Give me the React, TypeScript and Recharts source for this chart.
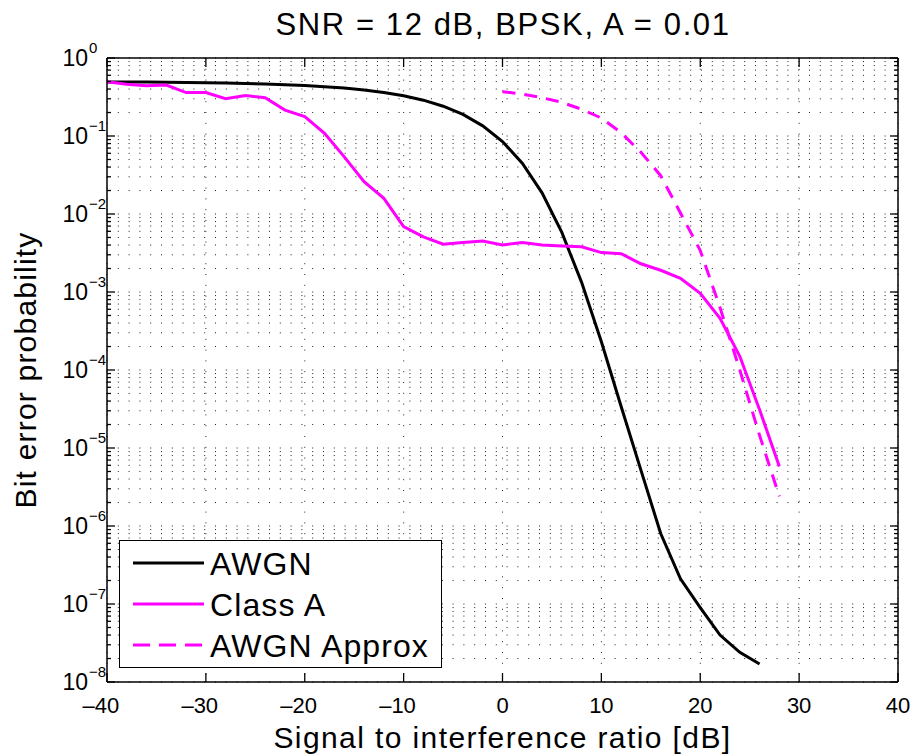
import { LineChart, Line, XAxis, YAxis, CartesianGrid, ReferenceLine, Legend } from 'recharts'

// values (SIR in dB, bit error probability)
const sirAwgn = [-40, -38, -36, -34, -32, -30, -28, -26, -24, -22, -20, -18, -16, -14, -12, -10, -8, -6, -4, -2, 0, 2, 4, 6, 8, 10, 12, 14, 16, 18, 20, 22, 24, 26]
const berAwgn = [0.494, 0.493, 0.491, 0.489, 0.486, 0.482, 0.478, 0.472, 0.465, 0.455, 0.444, 0.429, 0.411, 0.389, 0.362, 0.328, 0.288, 0.241, 0.189, 0.135, 0.085, 0.0448, 0.0187, 0.0058, 0.00133, 2.3e-4, 3.4e-5, 5.2e-6, 8e-7, 2.1e-7, 9e-8, 4.0e-8, 2.4e-8, 1.7e-8]

const sirClassA = [-40, -38, -36, -34, -32, -30, -28, -26, -24, -22, -20, -18, -16, -14, -12, -10, -8, -6, -4, -2, 0, 2, 4, 6, 8, 10, 12, 14, 16, 18, 20, 22, 24, 26, 28]
const berClassA = [0.497, 0.46, 0.44, 0.45, 0.36, 0.36, 0.3, 0.33, 0.31, 0.215, 0.177, 0.108, 0.054, 0.026, 0.0159, 0.0069, 0.0051, 0.0041, 0.0043, 0.0045, 0.004, 0.0043, 0.004, 0.0039, 0.0038, 0.0032, 0.0031, 0.0023, 0.0019, 0.0015, 0.00096, 0.00046, 0.00015, 3.1e-5, 5.8e-6]

const sirApprox = [0, 2, 4, 6, 8, 10, 12, 14, 16, 18, 20, 22, 24, 26, 28]
const berApprox = [0.37, 0.345, 0.31, 0.27, 0.22, 0.17, 0.11, 0.062, 0.031, 0.0103, 0.0034, 6.3e-4, 1.0e-4, 1.45e-5, 2.4e-6]

const xTicks = [-40, -30, -20, -10, 0, 10, 20, 30, 40]
const xTickLabels = ['40', '30', '20', '10', '0', '10', '20', '30', '40']
const yExponents = ['0', '\u22121', '\u22122', '\u22123', '\u22124', '\u22125', '\u22126', '\u22127', '\u22128']

// all log ticks: 1..9 x 10^k, k = -8..-1, plus 10^0
const yTicks: number[] = []
for (let k = -8; k < 0; k++) {
  for (let m = 1; m < 10; m++) yTicks.push(Number((m * Math.pow(10, k)).toPrecision(3)))
}
yTicks.push(1)

const FONT = '"Liberation Sans", Arial, sans-serif'
const MAGENTA = '#FF00FF'
const PLOT_LEFT = 107
const PLOT_RIGHT = 898
const PLOT_TOP = 58
const PLOT_BOTTOM = 682

const data = sirClassA.map((x) => {
  const a = sirAwgn.indexOf(x)
  const p = sirApprox.indexOf(x)
  return {
    x,
    classA: berClassA[sirClassA.indexOf(x)],
    awgn: a >= 0 ? berAwgn[a] : undefined,
    approx: p >= 0 ? berApprox[p] : undefined,
  }
})

function XTick(props: any) {
  const { x, payload } = props
  const v = payload.value as number
  const label = xTickLabels[xTicks.indexOf(v)]
  const half = label.length * 0.556 * 22 * 0.5
  return (
    <g>
      <line x1={x} x2={x} y1={PLOT_BOTTOM} y2={PLOT_BOTTOM - 9} stroke="#000" strokeWidth={1.3} />
      <line x1={x} x2={x} y1={PLOT_TOP} y2={PLOT_TOP + 9} stroke="#000" strokeWidth={1.3} />
      <text x={x} y={713} textAnchor="middle" fontSize={22} fontFamily={FONT} fill="#000">
        {label}
      </text>
      {v < 0 && (
        <text x={x - half} y={713} textAnchor="end" fontSize={22} fontFamily={FONT} fill="#000">
          {'\u2013'}
        </text>
      )}
    </g>
  )
}

function YTick(props: any) {
  const { y, payload } = props
  const v = payload.value as number
  const k = Math.round(-Math.log10(v))
  const major = Math.abs(v - Math.pow(10, -k)) / v < 1e-6
  const len = major ? 8 : 4
  return (
    <g>
      <line x1={PLOT_LEFT} x2={PLOT_LEFT + len} y1={y} y2={y} stroke="#000" strokeWidth={1.3} />
      <line x1={PLOT_RIGHT} x2={PLOT_RIGHT - len} y1={y} y2={y} stroke="#000" strokeWidth={1.3} />
      {major && (
        <text fontFamily={FONT} fill="#000">
          <tspan x={88} y={y + 8} fontSize={23} textAnchor="end">10</tspan>
          <tspan x={89} y={y - 5} fontSize={15} textAnchor="start">{yExponents[k]}</tspan>
        </text>
      )}
    </g>
  )
}

function XLabel() {
  return (
    <text x={(PLOT_LEFT + PLOT_RIGHT) / 2} y={748} textAnchor="middle" fontSize={30} fontFamily={FONT} fill="#000" letterSpacing={1.4}>
      Signal to interference ratio [dB]
    </text>
  )
}

function YLabel() {
  const cy = (PLOT_TOP + PLOT_BOTTOM) / 2
  return (
    <text x={36} y={cy} transform={`rotate(-90 36 ${cy})`} textAnchor="middle" fontSize={30} fontFamily={FONT} fill="#000" letterSpacing={1.2}>
      Bit error probability
    </text>
  )
}

const legendItems = [
  { name: 'AWGN', color: '#000', dashed: false },
  { name: 'Class A', color: MAGENTA, dashed: false },
  { name: 'AWGN Approx', color: MAGENTA, dashed: true },
]

function LegendBox() {
  return (
    <div
      style={{
        width: 323,
        height: 128,
        boxSizing: 'border-box',
        border: '1.5px solid #000',
        background: '#fff',
        fontFamily: FONT,
      }}
    >
      <svg width={320} height={125}>
        {legendItems.map((it, i) => (
          <g key={it.name}>
            <line
              x1={13}
              x2={84}
              y1={22 + i * 41}
              y2={22 + i * 41}
              stroke={it.color}
              strokeWidth={3}
              strokeDasharray={it.dashed ? '17 9' : undefined}
            />
            <text x={90} y={34 + i * 41} fontSize={32} fill="#000" letterSpacing={1.1}>
              {it.name}
            </text>
          </g>
        ))}
      </svg>
    </div>
  )
}

export default function App() {
  return (
    <div style={{ position: 'absolute', left: 0, top: 0, width: 913, height: 756, background: '#fff' }}>
      <div
        style={{
          position: 'absolute',
          left: 0,
          top: 8,
          width: 1006,
          textAlign: 'center',
          fontFamily: FONT,
          fontSize: 31,
          letterSpacing: 1.6,
          lineHeight: '34px',
        }}
      >
        SNR = 12 dB, BPSK, A = 0.01
      </div>
      <LineChart width={913} height={756} data={data} margin={{ top: PLOT_TOP, right: 913 - PLOT_RIGHT, bottom: 0, left: 0 }}>
        <CartesianGrid stroke="#222" strokeDasharray="1 9.8" strokeWidth={1} />
        <XAxis
          dataKey="x"
          type="number"
          domain={[-40, 40]}
          ticks={xTicks}
          interval={0}
          height={756 - PLOT_BOTTOM}
          tickSize={0}
          tick={<XTick />}
          axisLine={{ stroke: '#000', strokeWidth: 1.5 }}
          label={<XLabel />}
        />
        <YAxis
          type="number"
          scale="log"
          domain={[1e-8, 1]}
          allowDataOverflow
          ticks={yTicks}
          interval={0}
          width={PLOT_LEFT}
          tickSize={0}
          tick={<YTick />}
          axisLine={{ stroke: '#000', strokeWidth: 1.5 }}
          label={<YLabel />}
        />
        <ReferenceLine y={1} stroke="#000" strokeWidth={1.5} />
        <ReferenceLine x={40} stroke="#000" strokeWidth={1.5} />
        <Line dataKey="awgn" stroke="#000" strokeWidth={3} dot={false} isAnimationActive={false} />
        <Line dataKey="classA" stroke={MAGENTA} strokeWidth={3} dot={false} isAnimationActive={false} />
        <Line dataKey="approx" stroke={MAGENTA} strokeWidth={3} strokeDasharray="13 9" dot={false} isAnimationActive={false} />
        <Legend
          layout="vertical"
          align="center"
          verticalAlign="middle"
          content={<LegendBox />}
          wrapperStyle={{ left: 119, top: 540, width: 323, height: 128 }}
        />
      </LineChart>
    </div>
  )
}
